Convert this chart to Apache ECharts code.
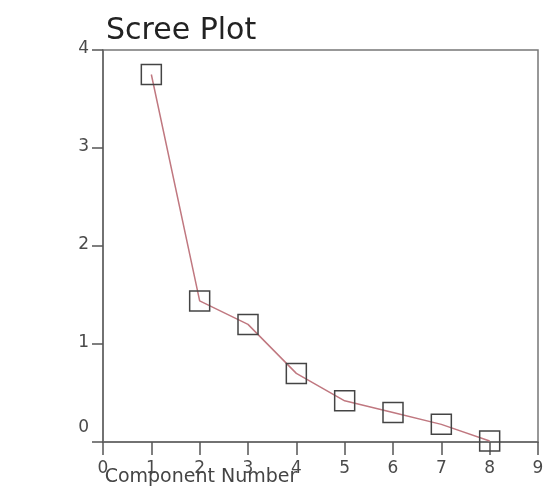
<!DOCTYPE html>
<html>
<head>
<meta charset="utf-8">
<script src="https://cdn.jsdelivr.net/npm/echarts@6/dist/echarts.min.js"></script>
<style>html,body{margin:0;padding:0;background:#fff}#c{width:544px;height:487px}</style>
</head>
<body>
<div id="c"></div>
<script>
var components = [1, 2, 3, 4, 5, 6, 7, 8];
var eigenvalues = [3.75, 1.44, 1.20, 0.70, 0.42, 0.30, 0.18, 0.01];
var xTicks = [0, 1, 2, 3, 4, 5, 6, 7, 8, 9];
var yTicks = [0, 1, 2, 3, 4];
var titleText = 'Scree Plot';
var xName = 'Component Number';

var chart = echarts.init(document.getElementById('c'), null, {renderer: 'canvas'});
var font = 'DejaVu Sans';
chart.setOption({
  animation: false,
  backgroundColor: '#fff',
  title: {
    text: titleText, left: 101, top: 11,
    textStyle: {fontFamily: font, fontSize: 30, fontWeight: 'normal', color: '#222'}
  },
  grid: {left: 103, right: 6, top: 50, bottom: 45, containLabel: false, outerBoundsMode: 'none',
         show: true, borderColor: '#777', borderWidth: 1.5, backgroundColor: 'transparent'},
  xAxis: {
    type: 'value', min: xTicks[0], max: xTicks[xTicks.length - 1], interval: 1,
    position: 'bottom',
    name: xName, nameLocation: 'middle', nameGap: 26, nameMoveOverlap: false,
    nameTextStyle: {fontFamily: font, fontSize: 19, color: '#444', align: 'center', padding: [0, 239, 0, 0]},
    axisLine: {show: true, onZero: false, lineStyle: {color: '#666', width: 1.5}},
    axisTick: {show: true, inside: false, length: 13, lineStyle: {color: '#555', width: 1.5}},
    axisLabel: {show: true, fontFamily: font, fontSize: 17, color: '#4a4a4a', margin: 18},
    splitLine: {show: false}
  },
  yAxis: {
    type: 'value', min: yTicks[0], max: yTicks[yTicks.length - 1], interval: 1,
    axisLine: {show: true, lineStyle: {color: '#666', width: 1.5}},
    axisTick: {show: true, length: 11, lineStyle: {color: '#555', width: 1.5}},
    axisLabel: {
      fontFamily: font, fontSize: 17, color: '#4a4a4a', margin: 14,
      formatter: function (v) { return v === 0 ? '{z|0}' : '{n|' + v + '}'; },
      rich: {
        z: {fontFamily: font, fontSize: 17, color: '#4a4a4a', padding: [0, 0, 28, 0]},
        n: {fontFamily: font, fontSize: 17, color: '#4a4a4a', padding: [0, 0, 3, 0]}
      }
    },
    splitLine: {show: false}
  },
  series: [{
    type: 'line',
    data: components.map(function (c, i) { return [c, eigenvalues[i]]; }),
    symbol: 'rect', symbolSize: 20,
    lineStyle: {color: '#c07880', width: 1.5},
    itemStyle: {color: 'rgba(0,0,0,0)', borderColor: '#444', borderWidth: 1.5},
    z: 3
  }]
});
</script>
</body>
</html>
